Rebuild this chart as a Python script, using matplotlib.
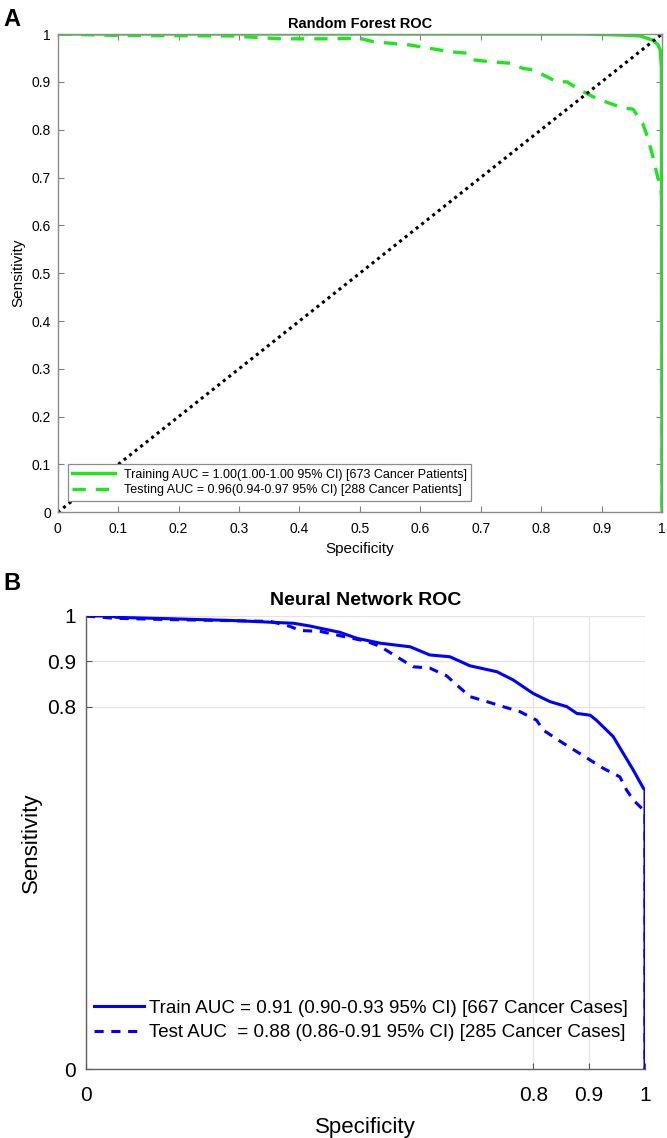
import numpy as np
import matplotlib
matplotlib.use("Agg")
import matplotlib.pyplot as plt

plt.rcParams["font.family"] = ["Liberation Sans", "DejaVu Sans"]

# ---- panel A: random forest ROC (specificity vs sensitivity) ----
rf_train_spec = [0.0, 0.5, 0.87, 0.93, 0.964, 0.985, 0.993, 0.997, 0.999, 0.9995, 1.0]
rf_train_sens = [1.0, 1.0, 1.0, 0.998, 0.996, 0.987, 0.978, 0.967, 0.93, 0.5, 0.0]

rf_test_spec = [0.0, 0.1, 0.29, 0.3, 0.37, 0.45, 0.5, 0.522, 0.583, 0.616, 0.649,
                0.677, 0.688, 0.715, 0.749, 0.770, 0.787, 0.809, 0.826, 0.843,
                0.864, 0.892, 0.914, 0.936, 0.952, 0.968, 0.976, 0.985, 0.993,
                0.998, 1.0, 1.0]
rf_test_sens = [1.0, 0.997, 0.996, 0.995, 0.99, 0.99, 0.991, 0.984, 0.977, 0.97,
                0.963, 0.96, 0.946, 0.942, 0.939, 0.928, 0.925, 0.911, 0.90, 0.90,
                0.883, 0.865, 0.855, 0.845, 0.843, 0.813, 0.785, 0.743, 0.70,
                0.68, 0.65, 0.0]

rf_labels = ["Training AUC = 1.00(1.00-1.00 95% CI) [673 Cancer Patients]",
             "Testing AUC = 0.96(0.94-0.97 95% CI) [288 Cancer Patients]"]

# ---- panel B: neural network ROC ----
nn_train_spec = [0.0, 0.043, 0.055, 0.15, 0.263, 0.371, 0.40, 0.419, 0.454, 0.484,
                 0.526, 0.580, 0.615, 0.651, 0.687, 0.735, 0.764, 0.800, 0.830,
                 0.860, 0.878, 0.902, 0.913, 0.943, 0.961, 0.979, 0.997, 1.0, 1.0]
nn_train_sens = [1.0, 1.0, 0.997, 0.994, 0.99, 0.984, 0.978, 0.973, 0.964, 0.951,
                 0.940, 0.932, 0.914, 0.910, 0.890, 0.877, 0.859, 0.829, 0.811,
                 0.800, 0.785, 0.781, 0.770, 0.734, 0.697, 0.660, 0.620, 0.616, 0.0]

nn_test_spec = [0.0, 0.05, 0.15, 0.25, 0.33, 0.365, 0.383, 0.419, 0.46, 0.502,
                0.526, 0.556, 0.585, 0.615, 0.645, 0.663, 0.687, 0.717, 0.746,
                0.776, 0.806, 0.818, 0.854, 0.902, 0.925, 0.955, 0.967, 0.979,
                0.997, 1.0, 1.0]
nn_test_sens = [1.0, 0.995, 0.992, 0.99, 0.988, 0.977, 0.968, 0.966, 0.955, 0.944,
                0.933, 0.910, 0.888, 0.885, 0.868, 0.848, 0.822, 0.811, 0.800,
                0.789, 0.770, 0.748, 0.719, 0.682, 0.664, 0.645, 0.616, 0.594,
                0.572, 0.568, 0.0]

nn_labels = ["Train AUC = 0.91 (0.90-0.93 95% CI) [667 Cancer Cases]",
             "Test AUC  = 0.88 (0.86-0.91 95% CI) [285 Cancer Cases]"]

green = "#1ee61e"
blue = "#0000ff"

fig = plt.figure(figsize=(6.67, 11.38), dpi=100)

# ---------------- panel A ----------------
ax1 = fig.add_axes([0.0865, 0.5498, 0.906, 0.4203])
ax1.plot(rf_train_spec, rf_train_sens, color=green, lw=2.4, label=rf_labels[0])
ax1.plot(rf_test_spec, rf_test_sens, color=green, lw=2.4, ls=(0, (4, 3)),
         label=rf_labels[1])
ax1.plot([0, 1], [0, 1], color="black", lw=2.2, ls=(0, (1, 1.3)))
ax1.set_xlim(0, 1)
ax1.set_ylim(0, 1)
ticks = np.round(np.arange(0, 1.01, 0.1), 1)
tick_labels = ["0"] + ["%.1f" % t for t in ticks[1:-1]] + ["1"]
ax1.set_xticks(ticks)
ax1.set_xticklabels(tick_labels)
ax1.set_yticks(ticks)
ax1.set_yticklabels(tick_labels)
ax1.tick_params(direction="in", length=4, width=0.8, color="#808080",
                labelsize=10, top=True, right=True, pad=5)
ax1.tick_params(axis="x", pad=7)
for sp in ax1.spines.values():
    sp.set_color("#8c8c8c")
    sp.set_linewidth(1.0)
ax1.set_title("Random Forest ROC", fontsize=10.5, fontweight="bold", pad=4)
ax1.set_xlabel("Specificity", fontsize=11, labelpad=4)
ax1.set_ylabel("Sensitivity", fontsize=11, labelpad=4)
leg1 = ax1.legend(loc="lower left", bbox_to_anchor=(0.017, 0.024), fontsize=9,
                  fancybox=False, framealpha=1, edgecolor="#8c8c8c",
                  borderaxespad=0, handlelength=3.4, handletextpad=0.7,
                  borderpad=0.35, labelspacing=0.3)
leg1.get_frame().set_linewidth(0.9)

# ---------------- panel B ----------------
ax2 = fig.add_axes([0.129, 0.0606, 0.838, 0.3981])
ax2.plot(nn_train_spec, nn_train_sens, color=blue, lw=2.2, label=nn_labels[0])
ax2.plot(nn_test_spec, nn_test_sens, color=blue, lw=2.2, ls=(0, (3, 2.5)),
         label=nn_labels[1])
ax2.set_xlim(0, 1)
ax2.set_ylim(0, 1)
nn_ticks = [0, 0.8, 0.9, 1]
nn_tick_labels = ["0", "0.8", "0.9", "1"]
ax2.set_xticks(nn_ticks)
ax2.set_xticklabels(nn_tick_labels)
ax2.set_yticks(nn_ticks)
ax2.set_yticklabels(nn_tick_labels)
ax2.grid(True, color="#e3e3e3", lw=0.9)
ax2.set_axisbelow(True)
ax2.tick_params(direction="in", length=4, width=0.8, color="#555555",
                labelsize=15, pad=7)
ax2.tick_params(axis="x", pad=12)
ax2.spines["top"].set_visible(False)
ax2.spines["right"].set_visible(False)
for side in ["left", "bottom"]:
    ax2.spines[side].set_color("#606060")
    ax2.spines[side].set_linewidth(1.0)
ax2.set_title("Neural Network ROC", fontsize=14, fontweight="bold", pad=8)
ax2.set_xlabel("Specificity", fontsize=16, labelpad=9)
ax2.set_ylabel("Sensitivity", fontsize=16, labelpad=4)
ax2.legend(loc="lower left", bbox_to_anchor=(0.0, 0.045), fontsize=13.5,
           frameon=False, borderaxespad=0, handlelength=2.7,
           handletextpad=0.25, labelspacing=0.4)

# panel letters
fig.text(0.005, 0.993, "A", fontsize=17, fontweight="bold", va="top", ha="left")
fig.text(0.005, 0.497, "B", fontsize=17, fontweight="bold", va="top", ha="left")

fig.savefig("out.png", dpi=100)
